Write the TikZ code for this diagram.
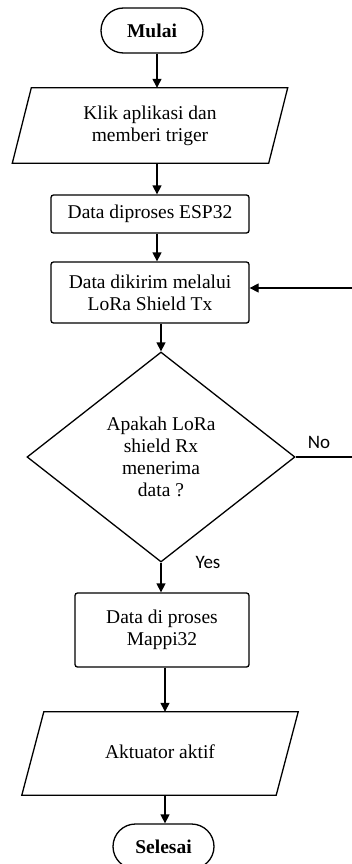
\documentclass[tikz,border=0pt]{standalone}
\usepackage{fontspec}
\setmainfont{Liberation Serif}
\newfontfamily\labelfont{Carlito}
\usetikzlibrary{shapes.geometric,arrows.meta,calc}
\begin{document}
\begin{tikzpicture}[x=1pt,y=-1pt,
  every node/.style={font=\fontsize{19.5}{22}\selectfont, align=center, inner sep=0pt},
  line/.style={line width=1.3pt},
  arr/.style={line width=1.3pt,-{Triangle[length=9pt,width=9pt]}},
  term/.style={draw, line width=1.3pt, rounded corners=22.5pt, minimum height=45pt, font=\fontsize{19.5}{22}\selectfont\bfseries},
  procbox/.style={draw, line width=1.3pt, rounded corners=2.5pt},
  iobox/.style={draw=none},
  decision/.style={draw, line width=1.3pt, diamond, aspect=1.28},
  lbl/.style={font=\fontsize{19}{22}\selectfont\labelfont}
]
\useasboundingbox (0,0) rectangle (351,864);

\node[term, minimum width=102pt] (mulai) at (152,30.5) {Mulai};

\node[iobox, minimum width=256pt, minimum height=75pt] (p1) at (150,125.5) {Klik aplikasi dan\\memberi triger};
\draw[line] ($(p1.north west)+(9.5,0)$) -- ($(p1.north east)+(9.5,0)$) -- ($(p1.south east)+(-9.5,0)$) -- ($(p1.south west)+(-9.5,0)$) -- cycle;

\node[procbox, minimum width=198pt, minimum height=38pt] (b1) at (150,214) {Data diproses ESP32};
\node[procbox, minimum width=198pt, minimum height=61pt] (b2) at (150,292.5) {Data dikirim melalui\\LoRa Shield Tx};

\node[decision, minimum width=268pt, minimum height=210pt] (dia) at (161,457) {Apakah LoRa\\shield Rx\\menerima\\data ?};

\node[procbox, minimum width=174pt, minimum height=74pt] (b3) at (162,630) {Data di proses\\Mappi32};

\node[iobox, minimum width=254pt, minimum height=83pt] (p2) at (160,753.5) {\raisebox{4pt}{Aktuator aktif}};
\draw[line] ($(p2.north west)+(11,0)$) -- ($(p2.north east)+(11,0)$) -- ($(p2.south east)+(-11,0)$) -- ($(p2.south west)+(-11,0)$) -- cycle;

\node[term, minimum width=101pt] (selesai) at (163.5,846.5) {Selesai};

\node[lbl] (no) at (319,442) {No};
\node[lbl] (yes) at (208,562) {Yes};

\coordinate (xa) at (157,0);
\coordinate (xc) at (165,0);
\coordinate (loopA) at (362,457);
\coordinate (loopB) at (362,288);
\coordinate (b2in) at (b2.east |- loopB);

\draw[arr] (mulai.south -| xa) -- (p1.north -| xa);
\draw[arr] (p1.south -| xa) -- (b1.north -| xa);
\draw[arr] (b1.south -| xa) -- (b2.north -| xa);
\draw[arr] (b2.south -| dia.north) -- (dia.north);
\draw[arr] (dia.south) -- (b3.north -| dia.south);
\draw[arr] (b3.south -| xc) -- (p2.north -| xc);
\draw[arr] (p2.south -| xc) -- (selesai.north -| xc);
\draw[arr] (dia.east) -- (loopA) -- (loopB) -- (b2in);
\end{tikzpicture}
\end{document}
